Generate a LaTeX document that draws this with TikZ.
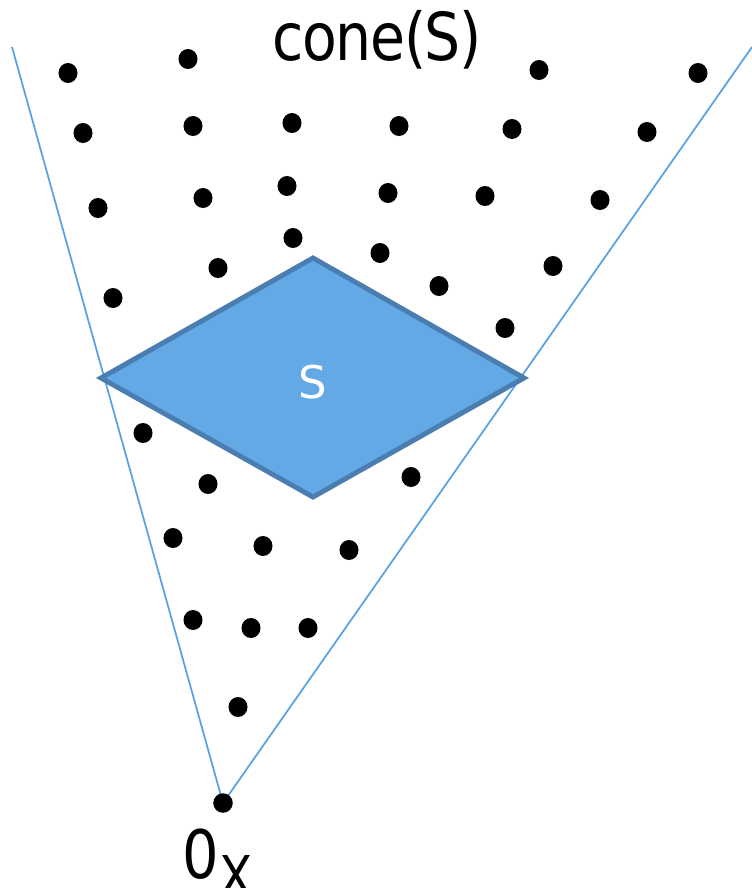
\documentclass[tikz,border=0pt]{standalone}
\usepackage{fontspec}
\setmainfont{DejaVu Sans}
\newfontfamily\narrowfont[FakeStretch=0.86, LetterSpace=-2]{DejaVu Sans}
\usetikzlibrary{positioning}
\definecolor{coneline}{HTML}{5AA2E4}
\definecolor{setfill}{HTML}{63A9E6}
\definecolor{setdraw}{HTML}{4A7DB0}

\begin{document}
\begin{tikzpicture}[x=0.01cm, y=-0.01cm,
    dot/.style={circle, fill=black, inner sep=0pt, minimum size=0.195cm},
    coneside/.style={coneline, line width=0.5pt}]
    \useasboundingbox (0,0) rectangle (752,888);
    % The two boundary rays, then the apex on top
    \coordinate (apex) at (223,803);
    \coordinate (lefttop) at (12,47);
    \coordinate (righttop) at (752,47);
    \draw[coneside] (apex) -- (lefttop);
    \draw[coneside] (apex) -- (righttop);
    \node[dot] (origin) at (apex) {};
    % Lattice points inside the cone
    \foreach \px/\py in {68/73, 188/59, 539/70, 698/73,
        83/133, 193/126, 292/123, 399/126, 512/129, 647/132,
        98/208, 203/198, 287/186, 388/193, 485/196, 600/200,
        293/238, 218/268, 380/253, 439/286, 553/266,
        113/298, 505/328,
        143/433, 208/484, 411/477,
        173/538, 263/546, 349/550,
        193/620, 251/628, 308/628,
        238/707}
        \fill (\px,\py) ellipse (0.095cm and 0.1cm);
    % The set S
    \draw[setdraw, fill=setfill, line width=1.4pt, line join=miter]
        (101,378) -- (313,258) -- (524,378) -- (313,497) -- cycle;
    \node[white, font=\fontsize{12.8}{15}\selectfont] (setlabel) at (313,382) {S};
    % Labels
    \node[font=\narrowfont\fontsize{18.8}{22}\selectfont] (conelabel) at (377,40) {cone(S)};
    \node[font=\narrowfont\fontsize{19}{22}\selectfont, anchor=base west, inner sep=0pt]
        (originlabel) at (182,878)
        {0\raisebox{-0.28em}{\fontsize{16}{18}\selectfont X}};
\end{tikzpicture}
\end{document}
